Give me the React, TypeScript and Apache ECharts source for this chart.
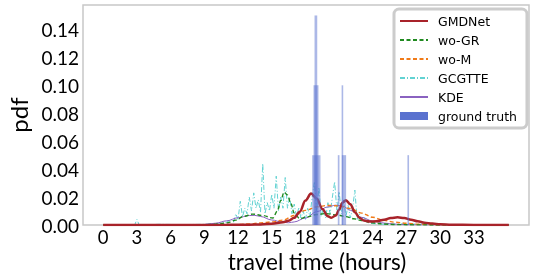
import React, { useEffect, useRef } from "react";
import * as echarts from "echarts";

// ---- data ----
const xTickLabels = [0, 3, 6, 9, 12, 15, 18, 21, 24, 27, 30, 33];

const gmdnetX = [0, 4, 8, 11, 13, 14, 15, 16, 16.5, 17, 17.5, 18, 18.5, 19, 19.5, 20, 20.3, 20.7, 21, 21.3, 21.6, 22, 22.4, 22.8, 23.2, 23.7, 24.3, 25, 25.6, 26.2, 26.8, 27.4, 28, 28.6, 29.3, 30, 31, 32, 34, 36.1];
const gmdnetY = [0, 0, 0, 0.0001, 0.0002, 0.0004, 0.0009, 0.002, 0.003, 0.0052, 0.0095, 0.0175, 0.0225, 0.019, 0.0115, 0.0062, 0.0052, 0.0068, 0.011, 0.016, 0.0178, 0.0148, 0.0092, 0.0052, 0.0032, 0.0025, 0.0026, 0.0038, 0.005, 0.0055, 0.005, 0.0038, 0.0026, 0.0017, 0.001, 0.0006, 0.0002, 0.0001, 0, 0];

const woGrX = [0, 5, 9, 10, 11, 11.8, 12.5, 13.3, 14.2, 15.1, 15.5, 15.8, 16.1, 16.4, 16.7, 17, 17.5, 18.1, 19, 19.8, 20.8, 21.6, 22.3, 23, 24, 25, 26, 28, 30, 36.1];
const woGrY = [0, 0, 0.0002, 0.0006, 0.0015, 0.0035, 0.0062, 0.0078, 0.0068, 0.005, 0.01, 0.0175, 0.0235, 0.0215, 0.0155, 0.0085, 0.0045, 0.0058, 0.0075, 0.0082, 0.0072, 0.006, 0.0045, 0.0032, 0.0015, 0.0007, 0.0003, 0.0001, 0, 0];

const woMX = [0, 8, 11, 12, 13, 14, 15, 16, 17, 18, 19, 20, 21, 22, 23, 24, 25, 26, 27, 28, 29, 30, 32, 36.1];
const woMY = [0, 0, 0.0001, 0.0003, 0.0008, 0.0015, 0.0022, 0.0035, 0.0068, 0.0105, 0.013, 0.014, 0.0137, 0.0118, 0.0085, 0.0055, 0.0033, 0.002, 0.0012, 0.0006, 0.0003, 0.0001, 0, 0];

const gcgtteX = [0, 2.8, 3.0, 3.2, 5, 7, 9, 10, 11, 11.4, 11.6, 11.8, 12.0, 12.2, 12.4, 12.6, 12.8, 13.0, 13.2, 13.4, 13.6, 13.8, 14.0, 14.2, 14.4, 14.6, 14.8, 15.0, 15.2, 15.4, 15.6, 15.8, 16.0, 16.2, 16.4, 16.6, 16.8, 17.0, 17.2, 17.4, 17.6, 17.8, 18.0, 18.2, 18.4, 18.6, 18.8, 19.0, 19.2, 19.4, 19.6, 19.8, 20.0, 20.2, 20.4, 20.6, 20.8, 21.0, 21.2, 21.4, 21.6, 21.8, 22.0, 22.2, 22.4, 22.6, 22.8, 23.0, 23.2, 23.4, 24, 25, 26, 27, 28, 29, 30, 32, 34, 36.1];
const gcgtteY = [0, 0, 0.004, 0, 0.0005, 0.0003, 0.0005, 0.001, 0.002, 0.004, 0.002, 0.008, 0.004, 0.017, 0.006, 0.012, 0.008, 0.02, 0.01, 0.023, 0.012, 0.018, 0.009, 0.044, 0.008, 0.016, 0.01, 0.022, 0.012, 0.035, 0.01, 0.02, 0.012, 0.034, 0.012, 0.02, 0.008, 0.015, 0.006, 0.012, 0.005, 0.01, 0.004, 0.012, 0.006, 0.02, 0.031, 0.01, 0.027, 0.006, 0.012, 0.005, 0.016, 0.008, 0.02, 0.031, 0.01, 0.024, 0.008, 0.018, 0.006, 0.014, 0.005, 0.012, 0.025, 0.004, 0.008, 0.003, 0.006, 0.002, 0.001, 0.0005, 0.0005, 0.001, 0.0005, 0.001, 0.0005, 0.0002, 0, 0];

const kdeX = [0, 7, 8, 9, 10, 11, 12, 13, 13.5, 14, 15, 16, 16.5, 17, 18, 19, 20, 20.7, 21.3, 22, 23, 24, 25, 26, 27, 28, 30, 36.1];
const kdeY = [0, 0, 0.0001, 0.0004, 0.0013, 0.003, 0.0052, 0.0068, 0.0069, 0.0061, 0.0036, 0.0019, 0.0016, 0.0022, 0.005, 0.0095, 0.013, 0.0142, 0.0137, 0.0105, 0.0055, 0.0028, 0.0014, 0.0006, 0.0002, 0.0001, 0, 0];

// ground truth histogram bins: start, end, density
const gtStart = [18.6, 18.72, 18.81, 20.88, 21.22, 21.24, 27.08];
const gtEnd = [19.34, 19.16, 19.05, 21.03, 21.28, 21.62, 27.14];
const gtHeight = [0.05, 0.1, 0.15, 0.05, 0.1, 0.05, 0.05];

const zip = (xs: number[], ys: number[]) => xs.map((x, i) => [x, ys[i]]);

export default function App() {
  const ref = useRef<HTMLDivElement>(null);
  useEffect(() => {
    if (!ref.current) return;
    const chart = echarts.init(ref.current, undefined, { renderer: "svg" });
    const tickFont = "Lato";
    const lineSeries = (name: string, data: number[][], color: string, width: number, type: any, smooth: boolean) => ({
      type: "line",
      name,
      data,
      showSymbol: false,
      symbol: "none",
      smooth: smooth ? 0.35 : false,
      smoothMonotone: smooth ? "x" : undefined,
      lineStyle: { color, width, type },
      itemStyle: { color },
      z: 2,
    });
    const hiddenSymbol = { opacity: 0 };
    const gtData = gtStart.map((s, i) => [s, gtEnd[i], gtHeight[i]]);
    chart.setOption({
      animation: false,
      grid: {
        left: 83,
        right: 8,
        top: 5,
        bottom: 50,
        show: true,
        borderColor: "#c8c8c8",
        borderWidth: 1.5,
        containLabel: false,
        outerBoundsMode: "none",
      },
      xAxis: {
        type: "value",
        min: -1.8,
        max: 37.9,
        splitNumber: 13,
        minInterval: 3,
        maxInterval: 3,
        axisLine: { show: false },
        axisTick: { show: false },
        splitLine: { show: false },
        axisLabel: {
          interval: 0,
          showMinLabel: false,
          showMaxLabel: false,
          margin: 3,
          fontFamily: tickFont,
          fontSize: 18.5,
          lineHeight: 18,
          color: "#000",
          formatter: (v: number) => (xTickLabels.some((t) => Math.abs(t - v) < 1e-6) ? String(Math.round(v)) : ""),
        },
        name: "travel time (hours)",
        nameLocation: "middle",
        nameMoveOverlap: false,
        nameGap: 25,
        nameTextStyle: { fontFamily: tickFont, fontSize: 22.5, color: "#000", padding: [0, 0, 0, 22], lineHeight: 22 },
      },
      yAxis: {
        type: "value",
        min: 0,
        max: 0.1575,
        interval: 0.02,
        axisLine: { show: false },
        axisTick: { show: false },
        splitLine: { show: false },
        axisLabel: {
          showMaxLabel: false,
          margin: 4,
          fontFamily: tickFont,
          fontSize: 19,
          color: "#000",
          formatter: (v: number) => v.toFixed(2),
        },
        name: "pdf",
        nameLocation: "middle",
        nameGap: 49,
        nameTextStyle: { fontFamily: tickFont, fontSize: 24, color: "#000" },
      },
      legend: {
        orient: "vertical",
        left: 394,
        top: 9,
        padding: [5, 10, 5, 5],
        itemWidth: 28,
        itemHeight: 8,
        itemGap: 5,
        borderColor: "#cccccc",
        borderWidth: 3,
        borderRadius: 5,
        backgroundColor: "rgba(255,255,255,0.8)",
        textStyle: { fontFamily: "DejaVu Sans", fontSize: 12.5, color: "#000", padding: [0, 0, 0, 5], lineHeight: 14 },
        data: [
          { name: "GMDNet", itemStyle: hiddenSymbol },
          { name: "wo-GR", itemStyle: hiddenSymbol },
          { name: "wo-M", itemStyle: hiddenSymbol },
          { name: "GCGTTE", itemStyle: hiddenSymbol },
          { name: "KDE", itemStyle: hiddenSymbol },
          { name: "ground truth", icon: "rect", itemStyle: { opacity: 1, color: "#5a72cf" } },
        ],
      },
      series: [
        lineSeries("GCGTTE", zip(gcgtteX, gcgtteY), "#62d2d2", 1, [5, 2, 1, 2], false),
        lineSeries("KDE", zip(kdeX, kdeY), "#8a62c0", 1, "solid", true),
        lineSeries("wo-M", zip(woMX, woMY), "#f07a18", 1.4, [4, 2.5], true),
        lineSeries("wo-GR", zip(woGrX, woGrY), "#1f8a1f", 1.4, [4, 2.5], true),
        lineSeries("GMDNet", zip(gmdnetX, gmdnetY), "#a8232a", 2.5, "solid", true),
        {
          type: "custom",
          name: "ground truth",
          encode: { x: [0, 1], y: 2 },
          data: gtData,
          itemStyle: { color: "#5a72cf" },
          z: 3,
          renderItem: (params: any, api: any) => {
            const p0 = api.coord([api.value(0), api.value(2)]);
            const p1 = api.coord([api.value(1), 0]);
            const w = Math.max(p1[0] - p0[0], 1.6);
            return {
              type: "rect",
              shape: { x: p0[0], y: p0[1], width: w, height: p1[1] - p0[1] },
              style: { fill: "#5a72cf", opacity: 0.5 },
            };
          },
        },
      ],
    });
    return () => chart.dispose();
  }, []);
  return <div ref={ref} style={{ position: "fixed", left: 0, top: 0, width: 537, height: 275 }} />;
}
